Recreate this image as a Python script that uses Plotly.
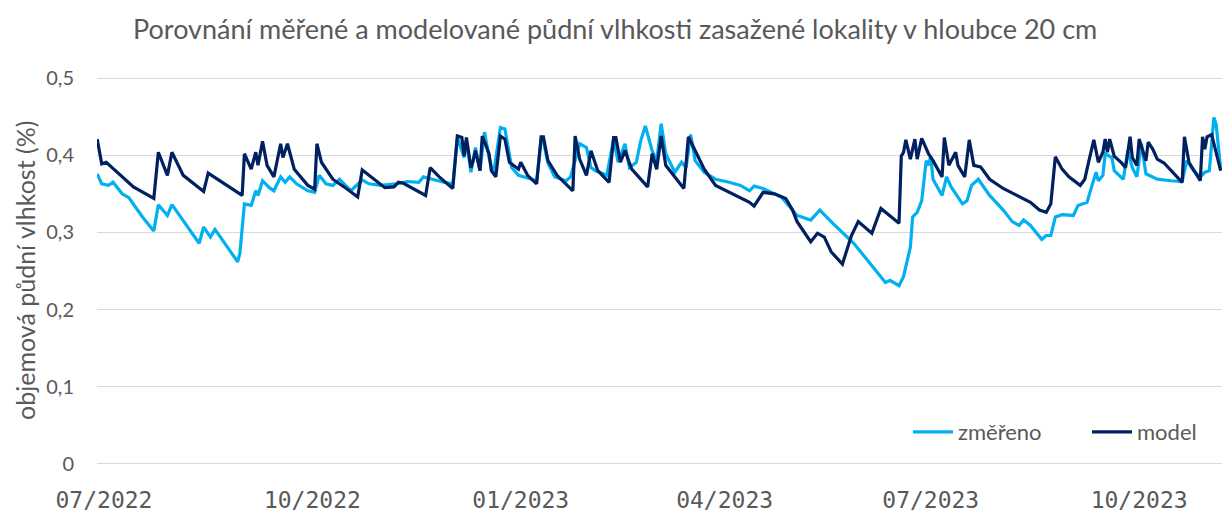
import plotly.graph_objects as go

# --- data ---
measured_dates = [
    "2022-06-28", "2022-06-30", "2022-07-03", "2022-07-05", "2022-07-09", "2022-07-12",
    "2022-07-18", "2022-07-23", "2022-07-25", "2022-07-29", "2022-07-31", "2022-08-06",
    "2022-08-12", "2022-08-14", "2022-08-17", "2022-08-19", "2022-08-29", "2022-08-30",
    "2022-09-01", "2022-09-04", "2022-09-06", "2022-09-07", "2022-09-09", "2022-09-12",
    "2022-09-14", "2022-09-17", "2022-09-19", "2022-09-21", "2022-09-24", "2022-09-29",
    "2022-10-02", "2022-10-04", "2022-10-07", "2022-10-10", "2022-10-13", "2022-10-18",
    "2022-10-23", "2022-10-26", "2022-10-31", "2022-11-07", "2022-11-12", "2022-11-17",
    "2022-11-19", "2022-11-23", "2022-11-28", "2022-12-02", "2022-12-04", "2022-12-07",
    "2022-12-08", "2022-12-10", "2022-12-12", "2022-12-14", "2022-12-16", "2022-12-18",
    "2022-12-20", "2022-12-23", "2022-12-25", "2022-12-28", "2022-12-31", "2023-01-08",
    "2023-01-10", "2023-01-11", "2023-01-13", "2023-01-16", "2023-01-21", "2023-01-23",
    "2023-01-27", "2023-01-30", "2023-02-01", "2023-02-03", "2023-02-08", "2023-02-11",
    "2023-02-13", "2023-02-16", "2023-02-18", "2023-02-21", "2023-02-23", "2023-02-25",
    "2023-02-28", "2023-03-02", "2023-03-04", "2023-03-06", "2023-03-10", "2023-03-13",
    "2023-03-15", "2023-03-17", "2023-03-19", "2023-03-23", "2023-03-28", "2023-04-03",
    "2023-04-08", "2023-04-12", "2023-04-14", "2023-04-18", "2023-04-26", "2023-05-03",
    "2023-05-09", "2023-05-13", "2023-05-19", "2023-05-28", "2023-06-04", "2023-06-11",
    "2023-06-13", "2023-06-17", "2023-06-19", "2023-06-22", "2023-06-23", "2023-06-25",
    "2023-06-27", "2023-06-29", "2023-06-30", "2023-07-01", "2023-07-02", "2023-07-06",
    "2023-07-08", "2023-07-10", "2023-07-15", "2023-07-17", "2023-07-19", "2023-07-22",
    "2023-07-27", "2023-08-02", "2023-08-06", "2023-08-09", "2023-08-11", "2023-08-14",
    "2023-08-19", "2023-08-21", "2023-08-23", "2023-08-25", "2023-08-28", "2023-09-02",
    "2023-09-04", "2023-09-08", "2023-09-10", "2023-09-12", "2023-09-13", "2023-09-15",
    "2023-09-16", "2023-09-19", "2023-09-20", "2023-09-24", "2023-09-26", "2023-09-28",
    "2023-09-30", "2023-10-02", "2023-10-04", "2023-10-09", "2023-10-15", "2023-10-20",
    "2023-10-22", "2023-10-25", "2023-10-28", "2023-10-30", "2023-11-01", "2023-11-03",
    "2023-11-04", "2023-11-06",
]
measured_values = [
    0.376, 0.363, 0.361, 0.365, 0.350, 0.345,
    0.320, 0.302, 0.336, 0.322, 0.336, 0.311,
    0.286, 0.307, 0.294, 0.304, 0.262, 0.273,
    0.337, 0.335, 0.354, 0.348, 0.367, 0.358,
    0.354, 0.372, 0.365, 0.372, 0.363, 0.354,
    0.352, 0.374, 0.363, 0.361, 0.369, 0.354,
    0.368, 0.363, 0.361, 0.363, 0.366, 0.365,
    0.372, 0.369, 0.365, 0.363, 0.423, 0.397,
    0.419, 0.378, 0.410, 0.380, 0.430, 0.397,
    0.376, 0.436, 0.434, 0.384, 0.374, 0.367,
    0.420, 0.418, 0.390, 0.372, 0.367, 0.372,
    0.415, 0.410, 0.384, 0.380, 0.374, 0.421,
    0.391, 0.415, 0.384, 0.391, 0.419, 0.438,
    0.406, 0.393, 0.441, 0.402, 0.378, 0.391,
    0.384, 0.427, 0.393, 0.378, 0.369, 0.365,
    0.361, 0.354, 0.360, 0.357, 0.346, 0.322,
    0.316, 0.329, 0.311, 0.286, 0.260, 0.235,
    0.238, 0.231, 0.243, 0.281, 0.320, 0.326,
    0.341, 0.393, 0.387, 0.399, 0.369, 0.348,
    0.372, 0.359, 0.337, 0.341, 0.361, 0.369,
    0.348, 0.329, 0.314, 0.309, 0.316, 0.309,
    0.291, 0.296, 0.296, 0.320, 0.323, 0.322,
    0.335, 0.339, 0.359, 0.378, 0.367, 0.374,
    0.402, 0.397, 0.380, 0.369, 0.406, 0.384,
    0.372, 0.415, 0.376, 0.369, 0.367, 0.366,
    0.393, 0.380, 0.372, 0.378, 0.380, 0.449,
    0.440, 0.382,
]

model_dates = [
    "2022-06-28", "2022-06-30", "2022-07-02", "2022-07-07", "2022-07-14", "2022-07-23",
    "2022-07-25", "2022-07-29", "2022-07-31", "2022-08-05", "2022-08-14", "2022-08-16",
    "2022-08-23", "2022-08-31", "2022-09-01", "2022-09-04", "2022-09-06", "2022-09-07",
    "2022-09-09", "2022-09-11", "2022-09-14", "2022-09-17", "2022-09-18", "2022-09-20",
    "2022-09-23", "2022-09-29", "2022-10-02", "2022-10-03", "2022-10-05", "2022-10-10",
    "2022-10-16", "2022-10-21", "2022-10-23", "2022-10-26", "2022-11-02", "2022-11-06",
    "2022-11-08", "2022-11-10", "2022-11-20", "2022-11-22", "2022-11-26", "2022-12-02",
    "2022-12-04", "2022-12-06", "2022-12-07", "2022-12-08", "2022-12-10", "2022-12-11",
    "2022-12-12", "2022-12-14", "2022-12-15", "2022-12-18", "2022-12-19", "2022-12-21",
    "2022-12-23", "2022-12-25", "2022-12-27", "2022-12-31", "2023-01-01", "2023-01-04",
    "2023-01-08", "2023-01-10", "2023-01-11", "2023-01-13", "2023-01-17", "2023-01-24",
    "2023-01-25", "2023-01-27", "2023-01-30", "2023-02-01", "2023-02-04", "2023-02-09",
    "2023-02-11", "2023-02-12", "2023-02-14", "2023-02-16", "2023-02-19", "2023-02-26",
    "2023-02-28", "2023-03-02", "2023-03-04", "2023-03-06", "2023-03-14", "2023-03-16",
    "2023-03-19", "2023-03-23", "2023-03-28", "2023-04-06", "2023-04-12", "2023-04-14",
    "2023-04-18", "2023-04-23", "2023-04-28", "2023-05-01", "2023-05-03", "2023-05-09",
    "2023-05-12", "2023-05-15", "2023-05-18", "2023-05-23", "2023-05-27", "2023-05-30",
    "2023-06-05", "2023-06-09", "2023-06-17", "2023-06-18", "2023-06-19", "2023-06-20",
    "2023-06-22", "2023-06-24", "2023-06-25", "2023-06-27", "2023-06-30", "2023-07-02",
    "2023-07-06", "2023-07-07", "2023-07-09", "2023-07-12", "2023-07-13", "2023-07-16",
    "2023-07-18", "2023-07-20", "2023-07-23", "2023-07-27", "2023-08-02", "2023-08-08",
    "2023-08-14", "2023-08-18", "2023-08-21", "2023-08-23", "2023-08-25", "2023-08-28",
    "2023-08-31", "2023-09-05", "2023-09-07", "2023-09-09", "2023-09-11", "2023-09-13",
    "2023-09-15", "2023-09-16", "2023-09-17", "2023-09-18", "2023-09-20", "2023-09-23",
    "2023-09-25", "2023-09-27", "2023-09-28", "2023-09-30", "2023-10-01", "2023-10-04",
    "2023-10-05", "2023-10-07", "2023-10-09", "2023-10-12", "2023-10-16", "2023-10-20",
    "2023-10-21", "2023-10-23", "2023-10-28", "2023-10-29", "2023-10-30", "2023-10-31",
    "2023-11-02", "2023-11-03", "2023-11-06",
]
model_values = [
    0.421, 0.389, 0.391, 0.378, 0.359, 0.344,
    0.404, 0.374, 0.404, 0.374, 0.353, 0.377,
    0.363, 0.348, 0.402, 0.382, 0.404, 0.387,
    0.418, 0.387, 0.372, 0.415, 0.397, 0.415,
    0.382, 0.361, 0.356, 0.415, 0.391, 0.369,
    0.357, 0.346, 0.381, 0.374, 0.358, 0.359,
    0.365, 0.364, 0.348, 0.384, 0.372, 0.357,
    0.425, 0.423, 0.399, 0.423, 0.384, 0.393,
    0.406, 0.380, 0.425, 0.402, 0.380, 0.372,
    0.425, 0.421, 0.391, 0.382, 0.391, 0.374,
    0.363, 0.424, 0.424, 0.393, 0.374, 0.354,
    0.425, 0.395, 0.374, 0.406, 0.380, 0.365,
    0.423, 0.423, 0.391, 0.406, 0.382, 0.359,
    0.402, 0.382, 0.425, 0.387, 0.357, 0.424,
    0.406, 0.382, 0.361, 0.348, 0.339, 0.334,
    0.352, 0.350, 0.344, 0.329, 0.314, 0.288,
    0.299, 0.294, 0.275, 0.259, 0.296, 0.314,
    0.299, 0.331, 0.312, 0.399, 0.404, 0.420,
    0.395, 0.421, 0.395, 0.422, 0.402, 0.393,
    0.372, 0.423, 0.387, 0.404, 0.387, 0.372,
    0.420, 0.387, 0.385, 0.369, 0.357, 0.348,
    0.339, 0.329, 0.326, 0.337, 0.398, 0.382,
    0.372, 0.361, 0.369, 0.395, 0.420, 0.391,
    0.404, 0.421, 0.404, 0.421, 0.399, 0.391,
    0.384, 0.424, 0.397, 0.387, 0.421, 0.393,
    0.417, 0.408, 0.395, 0.390, 0.378, 0.365,
    0.424, 0.391, 0.367, 0.424, 0.408, 0.424,
    0.427, 0.415, 0.380,
]

series_names = ["změřeno", "model"]
y_tick_values = [0, 0.1, 0.2, 0.3, 0.4, 0.5]
y_tick_labels = ["0", "0,1", "0,2", "0,3", "0,4", "0,5"]
title_text = "Porovnání měřené a modelované půdní vlhkosti zasažené lokality v hloubce 20 cm"
y_title_text = "objemová půdní vlhkost (%)"

GREY = "#595959"
FONT = "Lato, 'Open Sans', sans-serif"
PLOT_L, PLOT_W, PLOT_B, PLOT_H = 97, 1125, 465, 388

fig = go.Figure()
fig.add_trace(go.Scatter(x=measured_dates, y=measured_values, mode="lines",
                         name=series_names[0], legend="legend",
                         line=dict(color="#00B0F0", width=3.2)))
fig.add_trace(go.Scatter(x=model_dates, y=model_values, mode="lines",
                         name=series_names[1], legend="legend2",
                         line=dict(color="#002060", width=3.2)))

legend_common = dict(orientation="h", xanchor="left", y=(PLOT_B - 432) / PLOT_H,
                     yanchor="middle", bgcolor="rgba(0,0,0,0)",
                     font=dict(family=FONT, size=22, color=GREY), itemwidth=40)

fig.update_layout(
    width=1223, height=514,
    margin=dict(l=PLOT_L, r=1, t=77, b=49),
    paper_bgcolor="white", plot_bgcolor="white",
    font=dict(family=FONT, color=GREY),
    title=dict(text=title_text, x=0.503, xanchor="center", y=1 - 30 / 514, yanchor="middle",
               font=dict(family=FONT, size=27, color=GREY)),
    showlegend=True,
    legend=dict(x=(953 - 45 - PLOT_L) / PLOT_W, **legend_common),
    legend2=dict(x=(1132 - 45 - PLOT_L) / PLOT_W, **legend_common),
    annotations=[dict(text=y_title_text, xref="paper", yref="paper",
                      x=(25 - PLOT_L) / PLOT_W, y=0.5, xanchor="center", yanchor="middle",
                      textangle=-90, showarrow=False,
                      font=dict(family=FONT, size=25, color=GREY))],
)

fig.update_xaxes(
    type="date",
    range=["2022-06-27 22:00", "2023-11-06 14:00"],
    tick0="2022-07-01", dtick="M3", tickformat="%m/%Y",
    showgrid=False, zeroline=False, showline=False, ticks="",
    ticklabelstandoff=19,
    tickfont=dict(family="'DejaVu Sans Mono', monospace", size=23, color=GREY),
)
fig.update_yaxes(
    range=[-0.0015, 0.5015],
    tickvals=y_tick_values, ticktext=y_tick_labels,
    showgrid=True, gridcolor="#D9D9D9", gridwidth=1,
    zeroline=False, showline=False, ticks="",
    ticklabelstandoff=22,
    tickfont=dict(family=FONT, size=20, color=GREY),
)

fig.write_html("out.html", config={"displayModeBar": False},
               post_script="document.body.style.margin='0';")
